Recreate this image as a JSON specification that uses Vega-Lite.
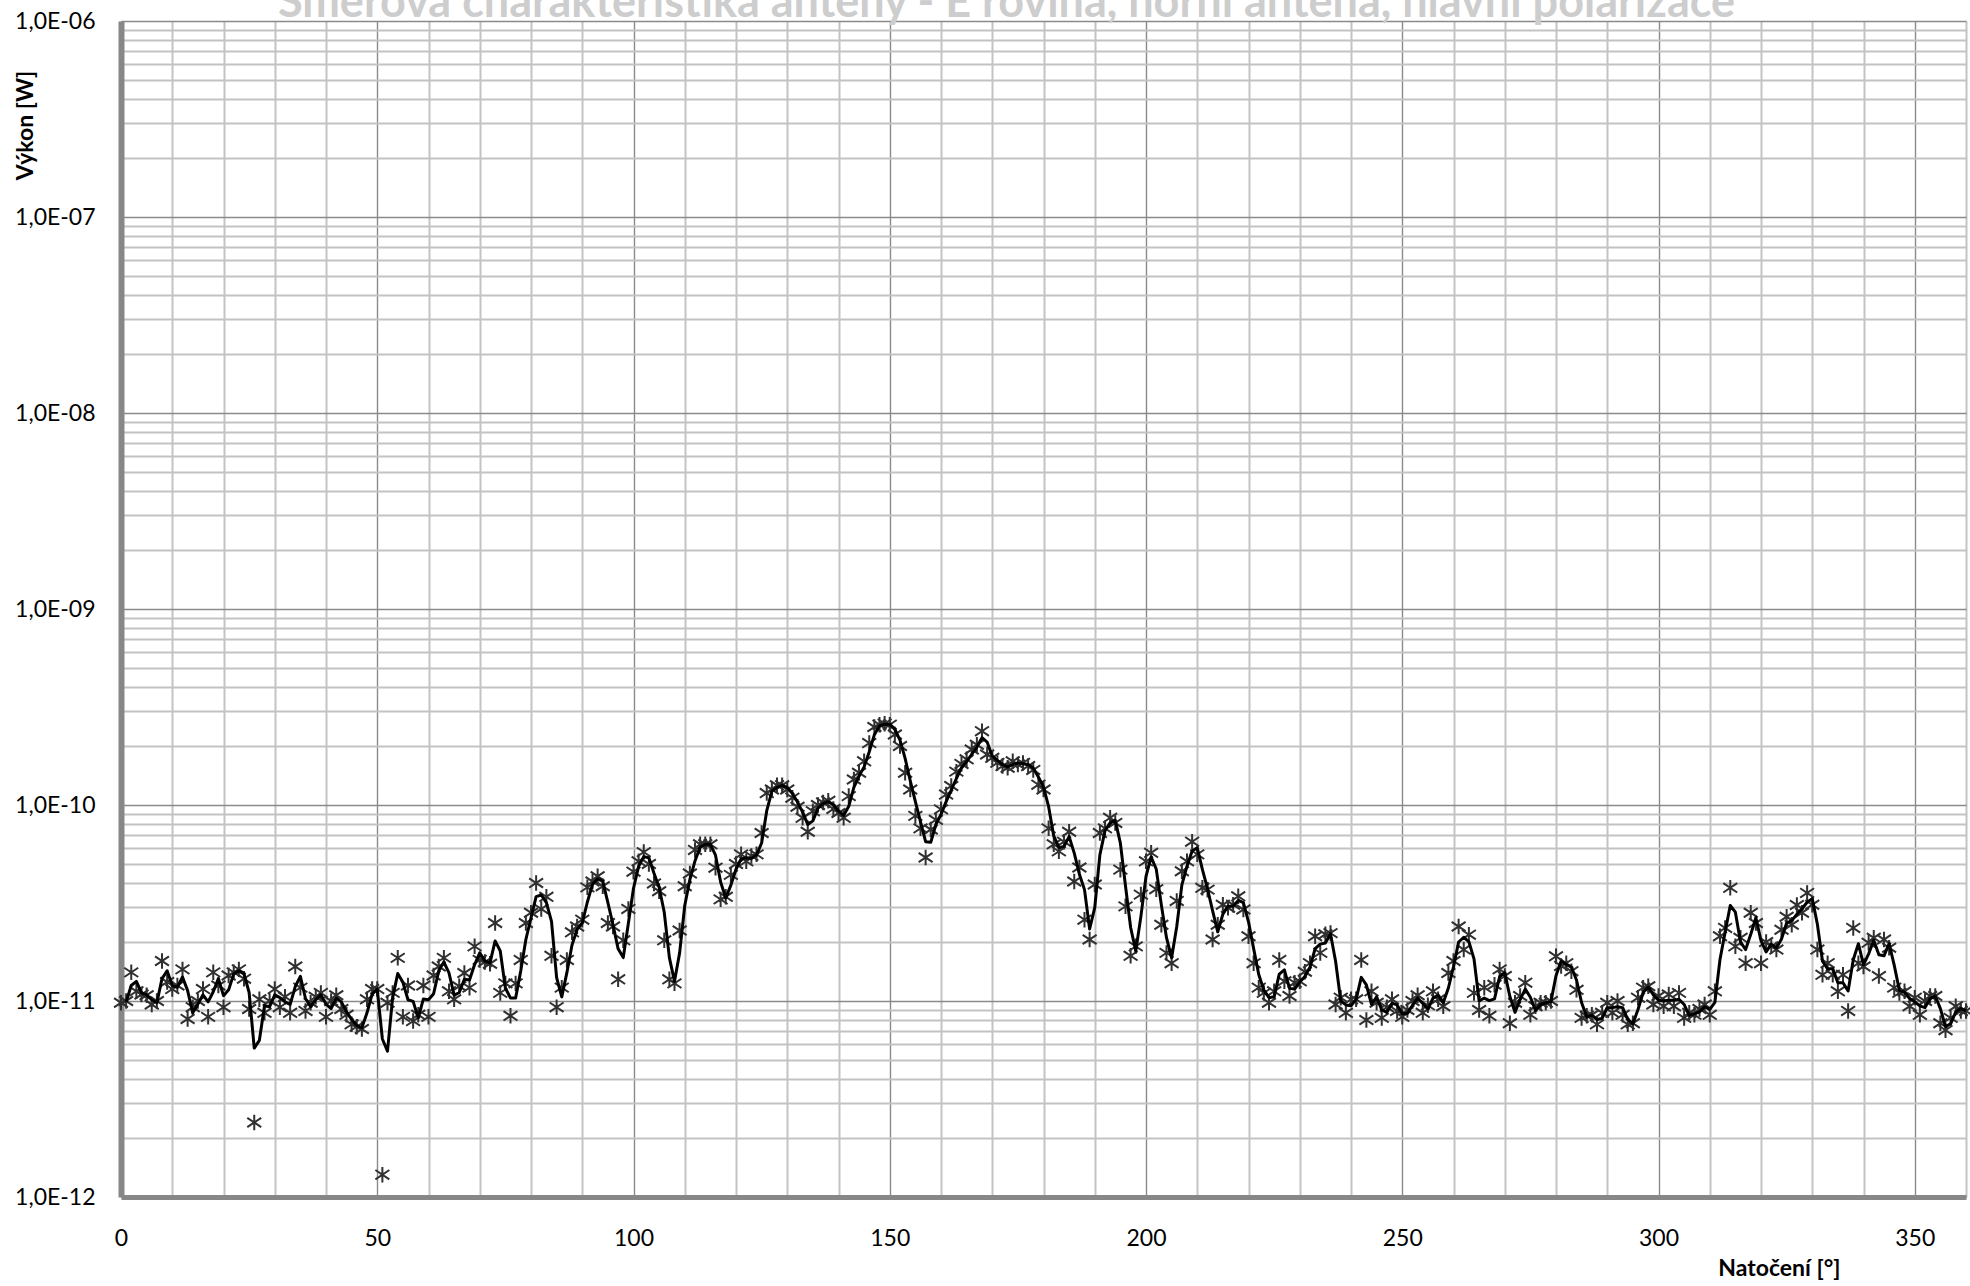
{
  "$schema": "https://vega.github.io/schema/vega-lite/v6.json",
  "width": 1845,
  "height": 1176,
  "autosize": {"type": "none"},
  "padding": {"left": 121, "top": 21, "right": 4, "bottom": 89},
  "background": "white",
  "config": {"view": {"stroke": null}, "font": "Lato"},
  "title": {"text": "Směrová charakteristika antény - E rovina, horní anténa, hlavní polarizace", "color": "#cdcdcd", "fontSize": 45, "fontWeight": "bold", "font": "Lato", "anchor": "middle", "baseline": "alphabetic", "offset": -52, "dx": -37},
  "data": {"values": [
    {"deg":0,"p":9.8e-12},{"deg":1,"p":1.0e-11},{"deg":2,"p":1.4e-11},{"deg":3,"p":1.12e-11},{"deg":4,"p":1.08e-11},{"deg":5,"p":1.07e-11},{"deg":6,"p":9.6e-12},{"deg":7,"p":1.0e-11},{"deg":8,"p":1.6e-11},{"deg":9,"p":1.25e-11},
    {"deg":10,"p":1.15e-11},{"deg":11,"p":1.2e-11},{"deg":12,"p":1.45e-11},{"deg":13,"p":8.1e-12},{"deg":14,"p":9.3e-12},{"deg":15,"p":1.0e-11},{"deg":16,"p":1.15e-11},{"deg":17,"p":8.3e-12},{"deg":18,"p":1.4e-11},{"deg":19,"p":1.2e-11},
    {"deg":20,"p":9.3e-12},{"deg":21,"p":1.35e-11},{"deg":22,"p":1.4e-11},{"deg":23,"p":1.45e-11},{"deg":24,"p":1.3e-11},{"deg":25,"p":9.1e-12},{"deg":26,"p":2.4e-12},{"deg":27,"p":1.02e-11},{"deg":28,"p":8.7e-12},{"deg":29,"p":1.0e-11},
    {"deg":30,"p":1.15e-11},{"deg":31,"p":9.3e-12},{"deg":32,"p":1.05e-11},{"deg":33,"p":8.7e-12},{"deg":34,"p":1.5e-11},{"deg":35,"p":1.17e-11},{"deg":36,"p":8.9e-12},{"deg":37,"p":9.8e-12},{"deg":38,"p":1.05e-11},{"deg":39,"p":1.1e-11},
    {"deg":40,"p":8.3e-12},{"deg":41,"p":1.0e-11},{"deg":42,"p":1.07e-11},{"deg":43,"p":9.1e-12},{"deg":44,"p":8.5e-12},{"deg":45,"p":7.6e-12},{"deg":46,"p":7.4e-12},{"deg":47,"p":7.2e-12},{"deg":48,"p":1.02e-11},{"deg":49,"p":1.15e-11},
    {"deg":50,"p":1.15e-11},{"deg":51,"p":1.3e-12},{"deg":52,"p":9.8e-12},{"deg":53,"p":1.1e-11},{"deg":54,"p":1.66e-11},{"deg":55,"p":8.3e-12},{"deg":56,"p":1.2e-11},{"deg":57,"p":7.9e-12},{"deg":58,"p":8.5e-12},{"deg":59,"p":1.2e-11},
    {"deg":60,"p":8.3e-12},{"deg":61,"p":1.35e-11},{"deg":62,"p":1.5e-11},{"deg":63,"p":1.66e-11},{"deg":64,"p":1.12e-11},{"deg":65,"p":1.02e-11},{"deg":66,"p":1.19e-11},{"deg":67,"p":1.39e-11},{"deg":68,"p":1.17e-11},{"deg":69,"p":1.9e-11},
    {"deg":70,"p":1.62e-11},{"deg":71,"p":1.58e-11},{"deg":72,"p":1.55e-11},{"deg":73,"p":2.5e-11},{"deg":74,"p":1.1e-11},{"deg":75,"p":1.23e-11},{"deg":76,"p":8.4e-12},{"deg":77,"p":1.23e-11},{"deg":78,"p":1.62e-11},{"deg":79,"p":2.5e-11},
    {"deg":80,"p":2.82e-11},{"deg":81,"p":4.0e-11},{"deg":82,"p":2.95e-11},{"deg":83,"p":3.4e-11},{"deg":84,"p":1.7e-11},{"deg":85,"p":9.3e-12},{"deg":86,"p":1.17e-11},{"deg":87,"p":1.62e-11},{"deg":88,"p":2.24e-11},{"deg":89,"p":2.4e-11},
    {"deg":90,"p":2.6e-11},{"deg":91,"p":3.8e-11},{"deg":92,"p":4.07e-11},{"deg":93,"p":4.33e-11},{"deg":94,"p":3.85e-11},{"deg":95,"p":2.5e-11},{"deg":96,"p":2.4e-11},{"deg":97,"p":1.29e-11},{"deg":98,"p":2.04e-11},{"deg":99,"p":2.95e-11},
    {"deg":100,"p":4.57e-11},{"deg":101,"p":5.16e-11},{"deg":102,"p":5.75e-11},{"deg":103,"p":5.0e-11},{"deg":104,"p":3.98e-11},{"deg":105,"p":3.63e-11},{"deg":106,"p":2.04e-11},{"deg":107,"p":1.29e-11},{"deg":108,"p":1.23e-11},{"deg":109,"p":2.29e-11},
    {"deg":110,"p":3.85e-11},{"deg":111,"p":4.47e-11},{"deg":112,"p":5.9e-11},{"deg":113,"p":6.3e-11},{"deg":114,"p":6.3e-11},{"deg":115,"p":6.3e-11},{"deg":116,"p":4.79e-11},{"deg":117,"p":3.3e-11},{"deg":118,"p":3.4e-11},{"deg":119,"p":4.4e-11},
    {"deg":120,"p":5.0e-11},{"deg":121,"p":5.6e-11},{"deg":122,"p":5.16e-11},{"deg":123,"p":5.5e-11},{"deg":124,"p":5.6e-11},{"deg":125,"p":7.2e-11},{"deg":126,"p":1.15e-10},{"deg":127,"p":1.2e-10},{"deg":128,"p":1.26e-10},{"deg":129,"p":1.26e-10},
    {"deg":130,"p":1.2e-10},{"deg":131,"p":1.09e-10},{"deg":132,"p":9.8e-11},{"deg":133,"p":8.6e-11},{"deg":134,"p":7.3e-11},{"deg":135,"p":9.3e-11},{"deg":136,"p":1.0e-10},{"deg":137,"p":1.03e-10},{"deg":138,"p":1.05e-10},{"deg":139,"p":9.55e-11},
    {"deg":140,"p":9.1e-11},{"deg":141,"p":8.6e-11},{"deg":142,"p":1.11e-10},{"deg":143,"p":1.35e-10},{"deg":144,"p":1.46e-10},{"deg":145,"p":1.67e-10},{"deg":146,"p":2.07e-10},{"deg":147,"p":2.5e-10},{"deg":148,"p":2.57e-10},{"deg":149,"p":2.6e-10},
    {"deg":150,"p":2.57e-10},{"deg":151,"p":2.29e-10},{"deg":152,"p":2.0e-10},{"deg":153,"p":1.46e-10},{"deg":154,"p":1.2e-10},{"deg":155,"p":8.8e-11},{"deg":156,"p":7.6e-11},{"deg":157,"p":5.4e-11},{"deg":158,"p":7.5e-11},{"deg":159,"p":8.4e-11},
    {"deg":160,"p":9.5e-11},{"deg":161,"p":1.13e-10},{"deg":162,"p":1.25e-10},{"deg":163,"p":1.48e-10},{"deg":164,"p":1.62e-10},{"deg":165,"p":1.71e-10},{"deg":166,"p":1.92e-10},{"deg":167,"p":2.03e-10},{"deg":168,"p":2.38e-10},{"deg":169,"p":1.81e-10},
    {"deg":170,"p":1.74e-10},{"deg":171,"p":1.64e-10},{"deg":172,"p":1.58e-10},{"deg":173,"p":1.55e-10},{"deg":174,"p":1.67e-10},{"deg":175,"p":1.61e-10},{"deg":176,"p":1.64e-10},{"deg":177,"p":1.58e-10},{"deg":178,"p":1.51e-10},{"deg":179,"p":1.27e-10},
    {"deg":180,"p":1.2e-10},{"deg":181,"p":7.6e-11},{"deg":182,"p":6.3e-11},{"deg":183,"p":5.8e-11},{"deg":184,"p":6.5e-11},{"deg":185,"p":7.3e-11},{"deg":186,"p":4.07e-11},{"deg":187,"p":4.8e-11},{"deg":188,"p":2.6e-11},{"deg":189,"p":2.06e-11},
    {"deg":190,"p":3.93e-11},{"deg":191,"p":7.2e-11},{"deg":192,"p":7.6e-11},{"deg":193,"p":8.6e-11},{"deg":194,"p":8.1e-11},{"deg":195,"p":4.68e-11},{"deg":196,"p":3.04e-11},{"deg":197,"p":1.7e-11},{"deg":198,"p":1.9e-11},{"deg":199,"p":3.49e-11},
    {"deg":200,"p":5.16e-11},{"deg":201,"p":5.7e-11},{"deg":202,"p":3.72e-11},{"deg":203,"p":2.45e-11},{"deg":204,"p":1.76e-11},{"deg":205,"p":1.56e-11},{"deg":206,"p":3.24e-11},{"deg":207,"p":4.59e-11},{"deg":208,"p":5.16e-11},{"deg":209,"p":6.5e-11},
    {"deg":210,"p":5.6e-11},{"deg":211,"p":3.78e-11},{"deg":212,"p":3.7e-11},{"deg":213,"p":2.06e-11},{"deg":214,"p":2.45e-11},{"deg":215,"p":3.1e-11},{"deg":216,"p":2.99e-11},{"deg":217,"p":3.1e-11},{"deg":218,"p":3.42e-11},{"deg":219,"p":2.93e-11},
    {"deg":220,"p":2.14e-11},{"deg":221,"p":1.56e-11},{"deg":222,"p":1.17e-11},{"deg":223,"p":1.1e-11},{"deg":224,"p":9.8e-12},{"deg":225,"p":1.12e-11},{"deg":226,"p":1.62e-11},{"deg":227,"p":1.26e-11},{"deg":228,"p":1.06e-11},{"deg":229,"p":1.24e-11},
    {"deg":230,"p":1.26e-11},{"deg":231,"p":1.41e-11},{"deg":232,"p":1.56e-11},{"deg":233,"p":2.14e-11},{"deg":234,"p":1.76e-11},{"deg":235,"p":2.19e-11},{"deg":236,"p":2.22e-11},{"deg":237,"p":9.6e-12},{"deg":238,"p":1.04e-11},{"deg":239,"p":8.7e-12},
    {"deg":240,"p":1.02e-11},{"deg":241,"p":1.02e-11},{"deg":242,"p":1.62e-11},{"deg":243,"p":8.0e-12},{"deg":244,"p":1.12e-11},{"deg":245,"p":9.8e-12},{"deg":246,"p":8.2e-12},{"deg":247,"p":9.3e-12},{"deg":248,"p":1.02e-11},{"deg":249,"p":8.9e-12},
    {"deg":250,"p":8.3e-12},{"deg":251,"p":9.0e-12},{"deg":252,"p":1.0e-11},{"deg":253,"p":1.07e-11},{"deg":254,"p":8.7e-12},{"deg":255,"p":9.5e-12},{"deg":256,"p":1.12e-11},{"deg":257,"p":1.02e-11},{"deg":258,"p":9.4e-12},{"deg":259,"p":1.39e-11},
    {"deg":260,"p":1.6e-11},{"deg":261,"p":2.4e-11},{"deg":262,"p":1.83e-11},{"deg":263,"p":2.18e-11},{"deg":264,"p":1.1e-11},{"deg":265,"p":9.0e-12},{"deg":266,"p":1.17e-11},{"deg":267,"p":8.4e-12},{"deg":268,"p":1.21e-11},{"deg":269,"p":1.45e-11},
    {"deg":270,"p":1.34e-11},{"deg":271,"p":7.7e-12},{"deg":272,"p":9.8e-12},{"deg":273,"p":1.06e-11},{"deg":274,"p":1.24e-11},{"deg":275,"p":8.5e-12},{"deg":276,"p":9.4e-12},{"deg":277,"p":9.8e-12},{"deg":278,"p":9.8e-12},{"deg":279,"p":1.0e-11},
    {"deg":280,"p":1.69e-11},{"deg":281,"p":1.51e-11},{"deg":282,"p":1.56e-11},{"deg":283,"p":1.42e-11},{"deg":284,"p":1.14e-11},{"deg":285,"p":8.2e-12},{"deg":286,"p":8.4e-12},{"deg":287,"p":8.5e-12},{"deg":288,"p":7.6e-12},{"deg":289,"p":8.7e-12},
    {"deg":290,"p":9.8e-12},{"deg":291,"p":8.7e-12},{"deg":292,"p":1.0e-11},{"deg":293,"p":8.5e-12},{"deg":294,"p":7.6e-12},{"deg":295,"p":7.7e-12},{"deg":296,"p":1.04e-11},{"deg":297,"p":1.17e-11},{"deg":298,"p":1.19e-11},{"deg":299,"p":9.6e-12},
    {"deg":300,"p":1.06e-11},{"deg":301,"p":9.4e-12},{"deg":302,"p":1.08e-11},{"deg":303,"p":9.4e-12},{"deg":304,"p":1.1e-11},{"deg":305,"p":8.2e-12},{"deg":306,"p":8.7e-12},{"deg":307,"p":8.5e-12},{"deg":308,"p":9.1e-12},{"deg":309,"p":9.6e-12},
    {"deg":310,"p":8.5e-12},{"deg":311,"p":1.12e-11},{"deg":312,"p":2.14e-11},{"deg":313,"p":2.36e-11},{"deg":314,"p":3.78e-11},{"deg":315,"p":1.9e-11},{"deg":316,"p":2.1e-11},{"deg":317,"p":1.56e-11},{"deg":318,"p":2.82e-11},{"deg":319,"p":2.5e-11},
    {"deg":320,"p":1.56e-11},{"deg":321,"p":2.0e-11},{"deg":322,"p":1.9e-11},{"deg":323,"p":1.83e-11},{"deg":324,"p":2.31e-11},{"deg":325,"p":2.69e-11},{"deg":326,"p":2.45e-11},{"deg":327,"p":3.09e-11},{"deg":328,"p":2.82e-11},{"deg":329,"p":3.56e-11},
    {"deg":330,"p":3.1e-11},{"deg":331,"p":1.83e-11},{"deg":332,"p":1.36e-11},{"deg":333,"p":1.56e-11},{"deg":334,"p":1.36e-11},{"deg":335,"p":1.12e-11},{"deg":336,"p":1.36e-11},{"deg":337,"p":8.9e-12},{"deg":338,"p":2.36e-11},{"deg":339,"p":1.56e-11},
    {"deg":340,"p":1.5e-11},{"deg":341,"p":1.98e-11},{"deg":342,"p":2.1e-11},{"deg":343,"p":1.34e-11},{"deg":344,"p":2.06e-11},{"deg":345,"p":1.87e-11},{"deg":346,"p":1.17e-11},{"deg":347,"p":1.1e-11},{"deg":348,"p":1.12e-11},{"deg":349,"p":9.4e-12},
    {"deg":350,"p":1.04e-11},{"deg":351,"p":8.5e-12},{"deg":352,"p":1.0e-11},{"deg":353,"p":1.06e-11},{"deg":354,"p":1.06e-11},{"deg":355,"p":7.7e-12},{"deg":356,"p":7.1e-12},{"deg":357,"p":8.2e-12},{"deg":358,"p":9.4e-12},{"deg":359,"p":8.9e-12},
    {"deg":360,"p":8.9e-12}
  ]},
  "layer": [
    {
      "mark": {"type": "point", "shape": "M0,-1L0,1M-0.9,-0.6L0.9,0.6M-0.9,0.6L0.9,-0.6", "filled": false, "stroke": "#303030", "strokeWidth": 2, "size": 240, "opacity": 1},
      "encoding": {
        "x": {"field": "deg", "type": "quantitative", "scale": {"domain": [0, 360], "nice": false, "zero": false},
          "axis": {"orient": "bottom", "values": [10,20,30,40,60,70,80,90,110,120,130,140,160,170,180,190,210,220,230,240,260,270,280,290,310,320,330,340,360], "grid": true, "gridColor": "#c3c3c3", "gridWidth": 2, "labels": false, "ticks": false, "domain": false, "title": null}},
        "y": {"field": "p", "type": "quantitative", "scale": {"type": "log", "domain": [1e-12, 1e-6], "nice": false},
          "axis": {"orient": "left", "values": [2e-12,3e-12,4e-12,5e-12,6e-12,7e-12,8e-12,9e-12,2e-11,3e-11,4e-11,5e-11,6e-11,7e-11,8e-11,9e-11,2e-10,3e-10,4e-10,5e-10,6e-10,7e-10,8e-10,9e-10,2e-9,3e-9,4e-9,5e-9,6e-9,7e-9,8e-9,9e-9,2e-8,3e-8,4e-8,5e-8,6e-8,7e-8,8e-8,9e-8,2e-7,3e-7,4e-7,5e-7,6e-7,7e-7,8e-7,9e-7], "grid": true, "gridColor": "#c3c3c3", "gridWidth": 2, "labels": false, "ticks": false, "domain": false, "title": null}}
      }
    },
    {
      "transform": [
        {"window": [{"op": "mean", "field": "p", "as": "trend"}], "frame": [-1, 0], "sort": [{"field": "deg"}]},
        {"filter": "datum.deg >= 1"}
      ],
      "mark": {"type": "line", "color": "#000000", "strokeWidth": 3, "strokeJoin": "round"},
      "encoding": {
        "x": {"field": "deg", "type": "quantitative", "scale": {"domain": [0, 360], "nice": false, "zero": false},
          "axis": {"orient": "bottom", "values": [0,50,100,150,200,250,300,350], "grid": true, "gridColor": "#8a8a8a", "gridWidth": 1.4, "ticks": false, "domain": true, "domainColor": "#878787", "domainWidth": 5, "labelFont": "Lato", "labelFontSize": 23, "labelColor": "#000000", "labelPadding": 30, "labelFlush": false, "labelOverlap": false,
            "title": "Natočení [°]", "titleFont": "Lato", "titleFontSize": 23, "titleFontWeight": "bold", "titleColor": "#000000", "titleX": 1719, "titleY": 71, "titleAlign": "right", "titleBaseline": "middle", "titleAnchor": null}},
        "y": {"field": "trend", "type": "quantitative", "scale": {"type": "log", "domain": [1e-12, 1e-6], "nice": false},
          "axis": {"orient": "left", "values": [1e-12,1e-11,1e-10,1e-9,1e-8,1e-7,1e-6], "grid": true, "gridColor": "#8a8a8a", "gridWidth": 1.6, "ticks": false, "domain": true, "domainColor": "#878787", "domainWidth": 6, "labelFont": "Lato", "labelFontSize": 23, "labelColor": "#000000", "labelPadding": 26, "labelOverlap": false,
            "labelExpr": "'1,0E-' + (round(-log(datum.value)/LN10) < 10 ? '0' : '') + round(-log(datum.value)/LN10)",
            "title": "Výkon [W]", "titleFont": "Lato", "titleFontSize": 23, "titleFontWeight": "bold", "titleColor": "#000000", "titleX": -96, "titleY": 104, "titleAngle": -90, "titleAlign": "center", "titleBaseline": "middle"}}
      }
    }
  ],
  "resolve": {"axis": {"x": "independent", "y": "independent"}}
}
